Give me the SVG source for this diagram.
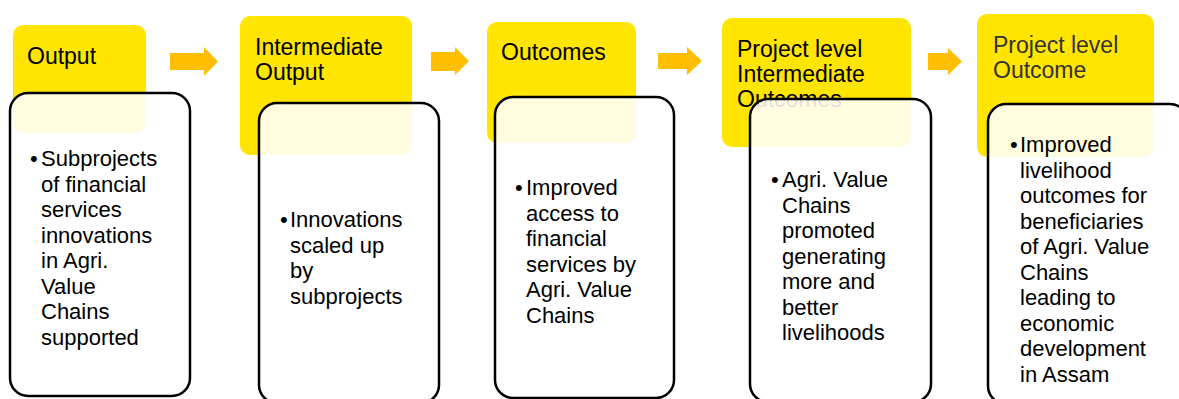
<svg xmlns="http://www.w3.org/2000/svg" width="1179" height="399" viewBox="0 0 1179 399">
<style>
.hd{fill:#FFE500}
.bx{fill:#fff;fill-opacity:0.88;stroke:#000;stroke-width:2.5}
.ar{fill:#FFBE00}
.tt{font-family:"Liberation Sans",Arial,sans-serif;font-size:23px;fill:#000}
.bt{font-family:"Liberation Sans",Arial,sans-serif;font-size:22px;fill:#000}
</style>
<rect width="1179" height="399" fill="#fff"/>
<g id="connectors">
<polygon class="ar" points="170,53 204,53 204,47 218,61.5 204,76 204,70 170,70"/>
<polygon class="ar" points="431,52 455,52 455,47 469,61 455,75 455,71 431,71"/>
<polygon class="ar" points="658,53 687,53 687,47 702,61 687,75 687,69 658,69"/>
<polygon class="ar" points="928,53 948,53 948,48 962,61.5 948,75 948,70 928,70"/>
</g>
<g id="node1">
<rect class="hd" x="13" y="25" width="133" height="108" rx="10"/>
<text class="tt" x="27" y="64">Output</text>
<rect class="bx" x="10" y="93" width="180" height="303" rx="18"/>
<text class="bt" x="41" y="166"><tspan x="30">•</tspan><tspan x="41">Subprojects</tspan><tspan x="41" y="191.5">of financial</tspan><tspan x="41" y="217">services</tspan><tspan x="41" y="242.5">innovations</tspan><tspan x="41" y="268">in Agri.</tspan><tspan x="41" y="293.5">Value</tspan><tspan x="41" y="319">Chains</tspan><tspan x="41" y="344.5">supported</tspan></text>
</g>
<g id="node2">
<rect class="hd" x="240" y="16" width="172" height="139" rx="10"/>
<text class="tt" x="255" y="55">Intermediate<tspan x="255" y="80">Output</tspan></text>
<rect class="bx" x="259" y="103" width="180" height="300" rx="18"/>
<text class="bt" y="227"><tspan x="280">•</tspan><tspan x="290">Innovations</tspan><tspan x="290" y="252.5">scaled up</tspan><tspan x="290" y="278">by</tspan><tspan x="290" y="303.5">subprojects</tspan></text>
</g>
<g id="node3">
<rect class="hd" x="487" y="22" width="149" height="121" rx="10"/>
<text class="tt" x="501" y="60">Outcomes</text>
<rect class="bx" x="495" y="97" width="179" height="301" rx="18"/>
<text class="bt" y="195"><tspan x="515">•</tspan><tspan x="526">Improved</tspan><tspan x="526" y="220.5">access to</tspan><tspan x="526" y="246">financial</tspan><tspan x="526" y="271.5">services by</tspan><tspan x="526" y="297">Agri. Value</tspan><tspan x="526" y="322.5">Chains</tspan></text>
</g>
<g id="node4">
<rect class="hd" x="722" y="18" width="189" height="129" rx="10"/>
<text class="tt" x="737" y="57">Project level<tspan x="737" y="82">Intermediate</tspan><tspan x="737" y="107">Outcomes</tspan></text>
<rect class="bx" x="750" y="99" width="181" height="303" rx="18"/>
<text class="bt" y="187"><tspan x="771">•</tspan><tspan x="782">Agri. Value</tspan><tspan x="782" y="212.5">Chains</tspan><tspan x="782" y="238">promoted</tspan><tspan x="782" y="263.5">generating</tspan><tspan x="782" y="289">more and</tspan><tspan x="782" y="314.5">better</tspan><tspan x="782" y="340">livelihoods</tspan></text>
</g>
<g id="node5">
<rect class="hd" x="977" y="14" width="177" height="143" rx="10"/>
<text class="tt" x="993" y="53" style="fill:#333">Project level<tspan x="993" y="78">Outcome</tspan></text>
<rect class="bx" x="988" y="104" width="200" height="300" rx="18"/>
<text class="bt" y="152"><tspan x="1010">•</tspan><tspan x="1020">Improved</tspan><tspan x="1020" y="177.5">livelihood</tspan><tspan x="1020" y="203">outcomes for</tspan><tspan x="1020" y="228.5">beneficiaries</tspan><tspan x="1020" y="254">of Agri. Value</tspan><tspan x="1020" y="279.5">Chains</tspan><tspan x="1020" y="305">leading to</tspan><tspan x="1020" y="330.5">economic</tspan><tspan x="1020" y="356">development</tspan><tspan x="1020" y="381.5">in Assam</tspan></text>
</g>
</svg>
